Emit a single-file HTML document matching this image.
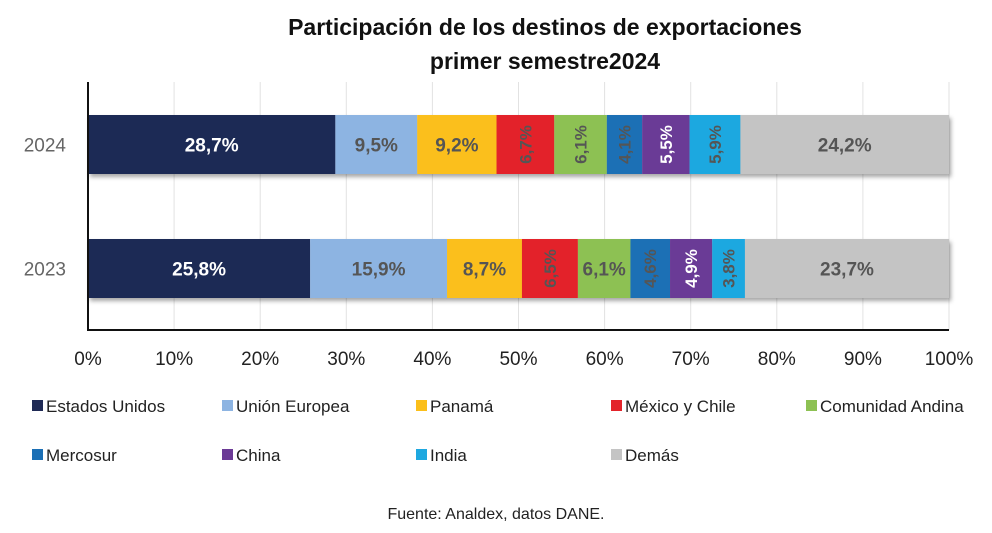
<!DOCTYPE html>
<html><head><meta charset="utf-8">
<style>
html,body{margin:0;padding:0;background:#fff;}
svg{display:block;font-family:"Liberation Sans",sans-serif;}
</style></head>
<body>
<svg id="chart" width="992" height="533" viewBox="0 0 992 533" xmlns="http://www.w3.org/2000/svg">
  <defs>
    <filter id="sh" x="-5%" y="-20%" width="110%" height="150%">
      <feDropShadow dx="2" dy="3" stdDeviation="2" flood-color="#000" flood-opacity="0.35"/>
    </filter>
  </defs>
  <text x="545" y="35" text-anchor="middle" font-size="23" font-weight="bold" fill="#111">Participación de los destinos de exportaciones</text>
  <text x="545" y="69" text-anchor="middle" font-size="23" font-weight="bold" fill="#111">primer semestre2024</text>
  <g id="grid"></g>
  <g id="bars"></g>
  <g id="axes"></g>
  <g id="legend"></g>
  <text x="496" y="519" text-anchor="middle" font-size="16" fill="#222">Fuente: Analdex, datos DANE.</text>
</svg>
<script>
const years = ["2024", "2023"];
const categories = ["Estados Unidos","Unión Europea","Panamá","México y Chile","Comunidad Andina","Mercosur","China","India","Demás"];
const colors = ["#1f2a55","#8db4e2","#fbbf1a","#e3232a","#8dc153","#1b6fb5","#6b3a96","#1ea8e0","#c4c4c4"];
const textColors = ["#fff","#555","#555","#555","#555","#555","#fff","#555","#555"];
const values2024 = [28.7, 9.5, 9.2, 6.7, 6.1, 4.1, 5.5, 5.9, 24.2];
const values2023 = [25.8, 15.9, 8.7, 6.5, 6.1, 4.6, 4.9, 3.8, 23.7];
const rotated2024 = [false,false,false,true,true,true,true,true,false];
const rotated2023 = [false,false,false,true,false,true,true,true,false];
const xTicks = [0,10,20,30,40,50,60,70,80,90,100];

const NS = "http://www.w3.org/2000/svg";
const X0 = 88, X1 = 949, PT = 82, PB = 330;
const xScale = v => X0 + (X1 - X0) * v / 100;
const barY = {"2024": 115, "2023": 239};
const BH = 59;
function mk(tag, attrs, parent){const e=document.createElementNS(NS,tag);for(const k in attrs)e.setAttribute(k,attrs[k]);parent.appendChild(e);return e;}

const grid = document.getElementById('grid');
xTicks.forEach(t=>{
  if(t===0) return;
  const l = mk('line',{x1:xScale(t),x2:xScale(t),y1:PT,y2:PB,stroke:'#e2e2e2','stroke-width':1},grid);
  
  
});

const bars = document.getElementById('bars');
const series = {"2024": values2024, "2023": values2023};
const rots = {"2024": rotated2024, "2023": rotated2023};
years.forEach(y=>{
  const vals = series[y];
  const total = vals.reduce((a,b)=>a+b,0);
  const scale = 100/total;
  const g = mk('g',{filter:'url(#sh)'},bars);
  
  
  let cum = 0;
  const labels = [];
  vals.forEach((v,i)=>{
    const xa = xScale(cum*scale), xb = xScale((cum+v)*scale);
    const r = mk('rect',{x:xa,y:barY[y],width:xb-xa,height:BH,fill:colors[i]},g);
    
    
    labels.push([xa,xb,v,i]);
    cum += v;
  });
  labels.forEach(([xa,xb,v,i])=>{
    const cx=(xa+xb)/2, cy=barY[y]+BH/2;
    const txt = v.toFixed(1).replace('.',',')+'%';
    let t;
    if(rots[y][i]){
      t = mk('text',{x:cx,y:cy+6,'text-anchor':'middle','font-size':17,'font-weight':'bold',fill:textColors[i],transform:`rotate(-90 ${cx} ${cy})`},bars);
    } else {
      t = mk('text',{x:cx,y:cy+7,'text-anchor':'middle','font-size':19,'font-weight':'bold',fill:textColors[i]},bars);
    }
    t.textContent = txt;
    
    
  });
  const yl = mk('text',{x:66,y:barY[y]+BH/2+7,'text-anchor':'end','font-size':19,fill:'#666'},bars);
  yl.textContent = y;
  
  
});

const axes = document.getElementById('axes');
const ya = mk('line',{x1:X0,x2:X0,y1:PT,y2:PB,stroke:'#111','stroke-width':2},axes);


const xa = mk('line',{x1:X0-1,x2:X1,y1:PB,y2:PB,stroke:'#111','stroke-width':2},axes);


xTicks.forEach(t=>{
  const tx = mk('text',{x:xScale(t),y:365,'text-anchor':'middle','font-size':19,fill:'#222'},axes);
  tx.textContent = t+'%';
  
  
});

const legend = document.getElementById('legend');
const colX = [32, 222, 416, 611, 806];
categories.forEach((c,i)=>{
  const row = Math.floor(i/5), col = i%5;
  const x = colX[col], y = row===0 ? 406 : 455;
  const g = mk('g',{},legend);
  
  
  mk('rect',{x:x,y:y-6,width:11,height:11,fill:colors[i]},g);
  const t = mk('text',{x:x+14,y:y+6,'font-size':17,fill:'#222'},g);
  t.textContent = c;
});
</script>
</body></html>
